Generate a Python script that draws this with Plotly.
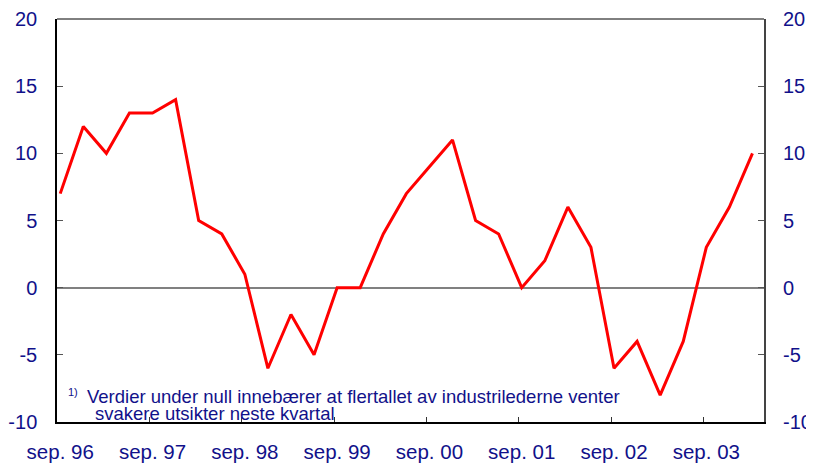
import plotly.graph_objects as go

quarters = ["sep. 96", "des. 96", "mar. 97", "jun. 97",
            "sep. 97", "des. 97", "mar. 98", "jun. 98",
            "sep. 98", "des. 98", "mar. 99", "jun. 99",
            "sep. 99", "des. 99", "mar. 00", "jun. 00",
            "sep. 00", "des. 00", "mar. 01", "jun. 01",
            "sep. 01", "des. 01", "mar. 02", "jun. 02",
            "sep. 02", "des. 02", "mar. 03", "jun. 03",
            "sep. 03", "des. 03", "mar. 04"]
values = [7, 12, 10, 13, 13, 14, 5, 4, 1, -6, -2, -5, 0, 0, 4, 7,
          9, 11, 5, 4, 0, 2, 6, 3, -6, -4, -8, -4, 3, 6, 10]
tick_labels = ["sep. 96", "sep. 97", "sep. 98", "sep. 99",
               "sep. 00", "sep. 01", "sep. 02", "sep. 03"]
y_ticks = [-10, -5, 0, 5, 10, 15, 20]
y_tick_text = ["-10", "-5", "0", "5", "10", "15", "20"]
note_line1 = "Verdier under null innebærer at flertallet av industrilederne venter"
note_line2 = "svakere utsikter neste kvartal"
note_mark = "1)"

NAVY = "#11118a"
FONT = "Liberation Sans, Arial, sans-serif"

xpos = list(range(len(quarters)))
label_pos = [quarters.index(t) for t in tick_labels]
tick_marks = [p - 0.13 for p in label_pos[1:]]
xr = [-0.14, 30.5]

fig = go.Figure()
fig.add_trace(go.Scatter(x=xpos, y=values, mode="lines",
                         line=dict(color="#ff0000", width=3),
                         hoverinfo="skip", showlegend=False))
# invisible trace to activate secondary axes
fig.add_trace(go.Scatter(x=[xpos[0]], y=[values[0]], xaxis="x2", yaxis="y2",
                         mode="markers", marker=dict(opacity=0),
                         hoverinfo="skip", showlegend=False))

# the page body adds an 8px offset, so the figure is sized 806x457
fig.update_layout(
    width=806, height=457,
    margin=dict(l=49, r=50, t=11, b=43, autoexpand=False),
    paper_bgcolor="white", plot_bgcolor="white",
    font=dict(family=FONT, color=NAVY, size=20),
    xaxis=dict(range=xr, tickvals=label_pos, ticktext=tick_labels,
               ticks="", showgrid=False, zeroline=False, automargin=False,
               showline=True, linecolor="black", linewidth=2,
               mirror=False, ticklabelstandoff=10,
               tickfont=dict(size=20.5, color=NAVY, family=FONT)),
    xaxis2=dict(range=xr, overlaying="x", side="bottom", automargin=False,
                tickvals=tick_marks, ticks="inside", ticklen=5,
                tickcolor="#333333", tickwidth=1,
                showticklabels=False, showgrid=False, zeroline=False,
                showline=False),
    yaxis=dict(range=[-10, 20], tickvals=y_ticks, ticktext=y_tick_text,
               ticks="inside", automargin=False,
               ticklen=6, tickcolor="#555555", tickwidth=1,
               showgrid=False, zeroline=True, zerolinecolor="#808080",
               zerolinewidth=1.5, showline=True, linecolor="black",
               linewidth=1.5, ticklabelstandoff=14,
               tickfont=dict(size=20, color=NAVY, family=FONT)),
    yaxis2=dict(range=[-10, 20], tickvals=y_ticks, ticktext=y_tick_text,
                overlaying="y", automargin=False,
                side="right", ticks="inside", ticklen=6,
                tickcolor="#555555", tickwidth=1, showgrid=False,
                zeroline=False, showline=True, linecolor="#444444",
                linewidth=2, ticklabelstandoff=13,
                tickfont=dict(size=20, color=NAVY, family=FONT)),
    shapes=[dict(type="line", xref="paper", yref="paper", x0=0, x1=1,
                 y0=1, y1=1, line=dict(color="black", width=1))],
)

fig.add_annotation(text=note_mark, xref="paper", yref="paper",
                   x=(66 - 57) / 707, y=(422 - 392) / 403,
                   xanchor="left", yanchor="middle", showarrow=False,
                   font=dict(size=11, color=NAVY, family=FONT))
fig.add_annotation(text=note_line1, xref="paper", yref="paper",
                   x=(85 - 57) / 707, y=(422 - 396) / 403,
                   xanchor="left", yanchor="middle", showarrow=False,
                   font=dict(size=18.5, color=NAVY, family=FONT))
fig.add_annotation(text=note_line2, xref="paper", yref="paper",
                   x=(93 - 57) / 707, y=(422 - 413) / 403,
                   xanchor="left", yanchor="middle", showarrow=False,
                   font=dict(size=18.5, color=NAVY, family=FONT))

fig.write_html("out.html")
